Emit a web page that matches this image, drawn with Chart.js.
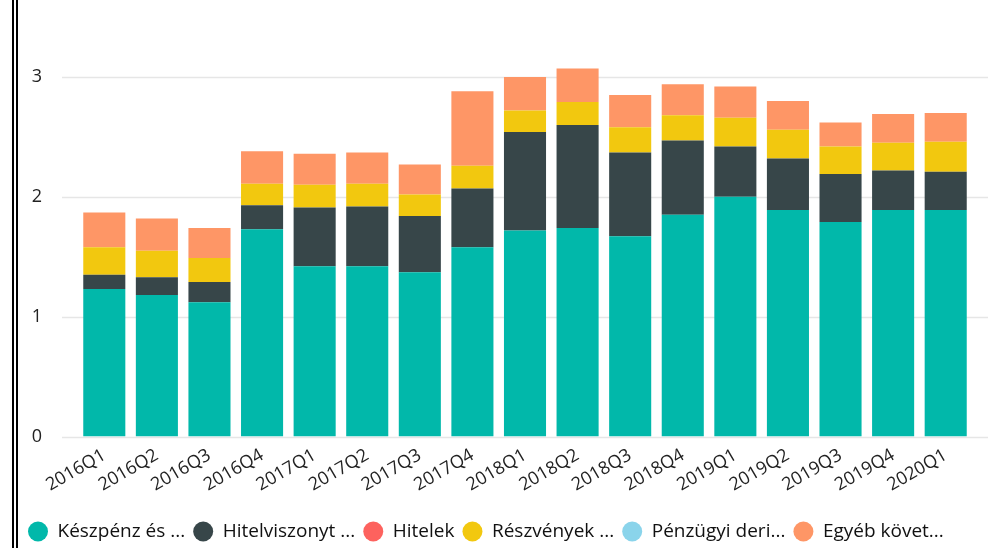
<!DOCTYPE html>
<html lang="hu">
<head>
    <meta charset="UTF-8">
    <title>Stacked</title>
    <style>
        html, body { margin: 0; padding: 0; background: #fff; }
        #wrap { position: relative; width: 989px; height: 548px; }
        #edge { position: absolute; left: 12px; top: 0; height: 548px; border-left: 6px double #000; }
    </style>
</head>
<body>
    <div id="wrap">
        <div id="edge"></div>
        <canvas id="myBarChart" width="989" height="548"></canvas>
    </div>

    <script src="https://cdn.jsdelivr.net/npm/chart.js"></script>
    <script>
        const quarters = ['2016Q1','2016Q2','2016Q3','2016Q4','2017Q1','2017Q2','2017Q3','2017Q4',
                          '2018Q1','2018Q2','2018Q3','2018Q4','2019Q1','2019Q2','2019Q3','2019Q4','2020Q1'];
        const seriesNames = ['Készpénz és ...', 'Hitelviszonyt ...', 'Hitelek', 'Részvények ...', 'Pénzügyi deri...', 'Egyéb követ...'];
        const keszpenz   = [1.23,1.18,1.12,1.73,1.42,1.42,1.37,1.58,1.72,1.74,1.67,1.85,2.00,1.89,1.79,1.89,1.89];
        const hitelvisz  = [0.12,0.15,0.17,0.20,0.49,0.50,0.47,0.49,0.82,0.86,0.70,0.62,0.42,0.43,0.40,0.33,0.32];
        const hitelek    = [0,0,0,0,0,0,0,0,0,0,0,0,0,0,0,0,0];
        const reszvenyek = [0.23,0.22,0.20,0.18,0.19,0.19,0.18,0.19,0.18,0.19,0.21,0.21,0.24,0.24,0.23,0.23,0.25];
        const derivativ  = [0,0,0,0,0,0,0,0,0,0,0,0,0,0,0,0,0];
        const egyeb      = [0.29,0.27,0.25,0.27,0.26,0.26,0.25,0.62,0.28,0.28,0.27,0.26,0.26,0.24,0.20,0.24,0.24];
        const yTicks = [0, 1, 2, 3];

        const seriesValues = [keszpenz, hitelvisz, hitelek, reszvenyek, derivativ, egyeb];
        const colors = ['#01B8AA', '#374649', '#FD625E', '#F2C80F', '#8AD4EB', '#FE9666'];

        // horizontal gridlines reaching a bit past the plot area
        const gridPlugin = {
            id: 'wideGrid',
            beforeDatasetsDraw(chart) {
                const { ctx, chartArea, scales } = chart;
                ctx.save();
                ctx.strokeStyle = '#e6e6e6';
                ctx.lineWidth = 1.5;
                yTicks.forEach(v => {
                    const y = Math.round(scales.y.getPixelForValue(v)) + 0.5;
                    ctx.beginPath();
                    ctx.moveTo(chartArea.left - 16, y);
                    ctx.lineTo(chartArea.right + 16, y);
                    ctx.stroke();
                });
                ctx.restore();
            }
        };

        const ctx = document.getElementById('myBarChart').getContext('2d');
        new Chart(ctx, {
            type: 'bar',
            data: {
                labels: quarters,
                datasets: seriesNames.map((name, i) => ({
                    label: name,
                    data: seriesValues[i],
                    backgroundColor: colors[i],
                    borderWidth: 0,
                    barPercentage: 0.8,
                    categoryPercentage: 1.0
                }))
            },
            options: {
                responsive: false,
                animation: false,
                layout: { padding: { left: 20, right: 17, top: 17, bottom: -3 } },
                plugins: {
                    tooltip: { enabled: false },
                    legend: {
                        position: 'bottom',
                        align: 'start',
                        labels: {
                            usePointStyle: true,
                            pointStyle: 'circle',
                            pointStyleWidth: 20,
                            boxHeight: 14,
                            padding: 8,
                            color: '#111',
                            font: { family: 'Open Sans', size: 19 }
                        }
                    }
                },
                scales: {
                    x: {
                        stacked: true,
                        grid: { display: false },
                        border: { display: false },
                        afterFit: axis => { axis.height += 18; },
                        ticks: {
                            color: '#222',
                            font: { family: 'Open Sans', size: 18 },
                            minRotation: 30,
                            maxRotation: 30,
                            autoSkip: false,
                            padding: 0
                        }
                    },
                    y: {
                        stacked: true,
                        min: 0,
                        max: 3.5,
                        grid: { display: false },
                        border: { display: false },
                        afterBuildTicks: axis => { axis.ticks = yTicks.map(v => ({ value: v })); },
                        afterFit: axis => { axis.width = 58; axis.paddingTop = 0; axis.paddingBottom = 0; },
                        ticks: {
                            color: '#222',
                            font: { family: 'Open Sans', size: 18 },
                            padding: 28
                        }
                    }
                }
            },
            plugins: [gridPlugin]
        });
    </script>
</body>
</html>
